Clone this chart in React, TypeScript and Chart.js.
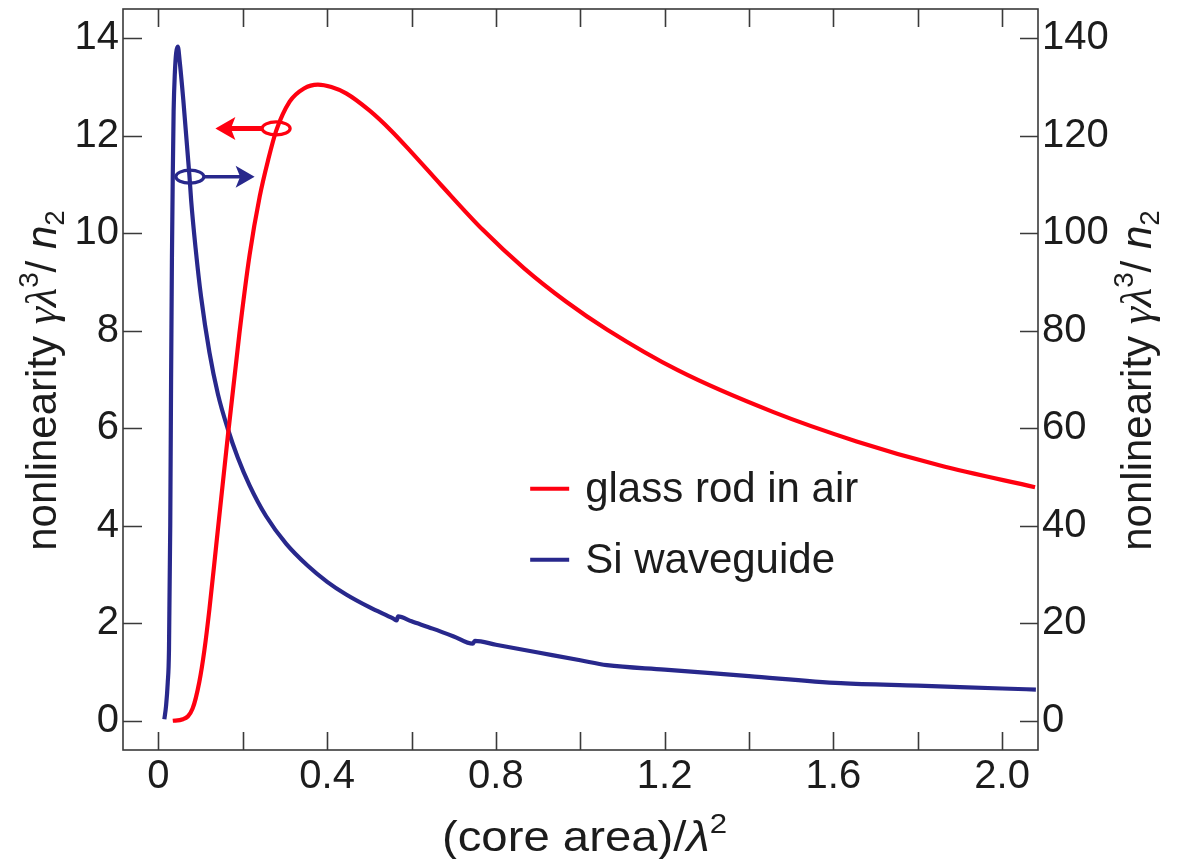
import React, { useEffect, useRef } from "react";
import { Chart, registerables } from "chart.js";

Chart.register(...registerables);

// ---------- data ----------
const xLabelTicks = [0, 0.4, 0.8, 1.2, 1.6, 2.0];
const xMinorTicks = [0, 0.2, 0.4, 0.6, 0.8, 1.0, 1.2, 1.4, 1.6, 1.8, 2.0];
const leftTicks = [0, 2, 4, 6, 8, 10, 12, 14];
const rightTicks = [0, 20, 40, 60, 80, 100, 120, 140];

const seriesLabels = ["glass rod in air", "Si waveguide"];

// glass rod in air (left axis)
const glassX = [0.034, 0.058, 0.081, 0.097, 0.109, 0.121, 0.137, 0.164, 0.192, 0.216, 0.24, 0.26, 0.279, 0.311, 0.345, 0.378, 0.41, 0.445, 0.5, 0.55, 0.6, 0.67, 0.769, 0.867, 0.966, 1.064, 1.231, 1.458, 1.655, 1.851, 2.078];
const glassY = [0, 0.03, 0.25, 0.8, 1.45, 2.3, 3.6, 5.8, 7.95, 9.55, 10.75, 11.5, 12.1, 12.7, 12.97, 13.05, 13.0, 12.87, 12.52, 12.12, 11.66, 10.99, 10.07, 9.28, 8.6, 8.02, 7.19, 6.33, 5.73, 5.24, 4.79];

// Si waveguide (right axis)
const siX = [0.014, 0.018, 0.022, 0.025, 0.028, 0.03, 0.032, 0.034, 0.036, 0.039, 0.042, 0.046, 0.05, 0.059, 0.0735, 0.0775, 0.088, 0.101, 0.121, 0.141, 0.164, 0.188, 0.216, 0.255, 0.303, 0.354, 0.4, 0.445, 0.5, 0.556, 0.565, 0.568, 0.6, 0.65, 0.7, 0.745, 0.75, 0.8, 0.9, 1.0, 1.063, 1.2, 1.4, 1.618, 1.8, 2.0, 2.08];
const siY = [0.3, 3, 7.7, 14.5, 40, 70, 95, 112, 125, 133, 137, 138.3, 135.6, 127.3, 111.8, 106.8, 97, 87, 75.5, 67, 60, 54, 48.3, 42, 36.3, 31.8, 28.5, 25.9, 23.3, 21.0, 20.6, 21.4, 20.4, 18.9, 17.3, 15.8, 16.4, 15.6, 14.0, 12.4, 11.4, 10.5, 9.15, 7.7, 7.2, 6.62, 6.4];

// axis ranges
const X_MIN = -0.084;
const X_MAX = 2.085;
const YL_MIN = -0.6;
const YL_MAX = 14.6;
const YR_MIN = -6;
const YR_MAX = 146;

// axis-marker annotations (data units)
const glassMarkerX = 0.279;
const glassMarkerY = 12.15;
const glassArrowTipX = 0.135;
const siMarkerX = 0.0745;
const siMarkerY = 111.6;
const siArrowTipX = 0.228;

// ---------- styles ----------
const RED = "#FF0010";
const BLUE = "#28288C";
const AXIS = "#3a3a3a";
const TEXT = "#1c1c1c";
const FAMILY = '"Liberation Sans", Arial, Helvetica, sans-serif';
const SERIF = '"Liberation Serif", "Times New Roman", serif';
const font = (size: number, italic = false, fam = FAMILY) => `${italic ? "italic " : ""}${size}px ${fam}`;

type Part = { t: string; s: "n" | "i" | "gi" | "sup" | "sub" };

function drawRich(ctx: CanvasRenderingContext2D, parts: Part[], cx: number, baseY: number, size: number, sx = 1) {
  const small = size * 0.66;
  const fontFor = (p: Part) =>
    p.s === "i" ? font(size, true) : p.s === "gi" ? font(size * 1.05, true, SERIF) : p.s === "n" ? font(size) : font(small);
  let total = 0;
  for (const p of parts) {
    ctx.font = fontFor(p);
    total += ctx.measureText(p.t).width;
  }
  ctx.save();
  ctx.translate(cx, baseY);
  ctx.scale(sx, 1);
  let x = -total / 2;
  ctx.textAlign = "left";
  ctx.textBaseline = "alphabetic";
  for (const p of parts) {
    ctx.font = fontFor(p);
    const dy = p.s === "sup" ? -size * 0.42 : p.s === "sub" ? size * 0.2 : 0;
    ctx.fillText(p.t, x, dy);
    x += ctx.measureText(p.t).width;
  }
  ctx.restore();
}

const framePlugin = {
  id: "frame",
  afterDatasetsDraw(chart: any) {
    const { ctx, chartArea: a, scales } = chart;
    ctx.save();
    ctx.strokeStyle = AXIS;
    ctx.lineWidth = 1.6;
    ctx.strokeRect(a.left, a.top, a.right - a.left, a.bottom - a.top);
    ctx.beginPath();
    for (const v of xMinorTicks) {
      const px = Math.round(scales.x.getPixelForValue(v)) + 0.5;
      ctx.moveTo(px, a.bottom);
      ctx.lineTo(px, a.bottom - 18);
      ctx.moveTo(px, a.top);
      ctx.lineTo(px, a.top + 18);
    }
    for (const v of leftTicks) {
      const py = Math.round(scales.y.getPixelForValue(v)) + 0.5;
      ctx.moveTo(a.left, py);
      ctx.lineTo(a.left + 19, py);
    }
    for (const v of rightTicks) {
      const py = Math.round(scales.y1.getPixelForValue(v)) + 0.5;
      ctx.moveTo(a.right, py);
      ctx.lineTo(a.right - 18, py);
    }
    ctx.stroke();
    ctx.restore();
  },
};

const markerPlugin = {
  id: "markers",
  afterDatasetsDraw(chart: any) {
    const { ctx, scales } = chart;
    ctx.save();
    // red: ellipse + arrow to the left
    {
      const cx = scales.x.getPixelForValue(glassMarkerX);
      const cy = scales.y.getPixelForValue(glassMarkerY);
      const tip = scales.x.getPixelForValue(glassArrowTipX);
      ctx.strokeStyle = RED;
      ctx.fillStyle = RED;
      ctx.lineWidth = 3.2;
      ctx.beginPath();
      ctx.ellipse(cx, cy, 14, 6.5, 0, 0, Math.PI * 2);
      ctx.stroke();
      ctx.lineWidth = 5;
      ctx.beginPath();
      ctx.moveTo(cx - 14, cy);
      ctx.lineTo(tip + 14, cy);
      ctx.stroke();
      ctx.beginPath();
      ctx.moveTo(tip, cy);
      ctx.lineTo(tip + 20, cy - 11.5);
      ctx.lineTo(tip + 15.5, cy);
      ctx.lineTo(tip + 20, cy + 11.5);
      ctx.closePath();
      ctx.fill();
    }
    // blue: ellipse + arrow to the right
    {
      const cx = scales.x.getPixelForValue(siMarkerX);
      const cy = scales.y1.getPixelForValue(siMarkerY);
      const tip = scales.x.getPixelForValue(siArrowTipX);
      ctx.strokeStyle = BLUE;
      ctx.fillStyle = BLUE;
      ctx.lineWidth = 3.2;
      ctx.beginPath();
      ctx.ellipse(cx, cy, 14, 6.5, 0, 0, Math.PI * 2);
      ctx.stroke();
      ctx.lineWidth = 3.5;
      ctx.beginPath();
      ctx.moveTo(cx + 14, cy);
      ctx.lineTo(tip - 14, cy);
      ctx.stroke();
      ctx.beginPath();
      ctx.moveTo(tip, cy);
      ctx.lineTo(tip - 19, cy - 11);
      ctx.lineTo(tip - 14.5, cy);
      ctx.lineTo(tip - 19, cy + 11);
      ctx.closePath();
      ctx.fill();
    }
    ctx.restore();
  },
};

const legendPlugin = {
  id: "innerLegend",
  afterDraw(chart: any) {
    const { ctx, chartArea: a } = chart;
    const w = a.right - a.left;
    const h = a.bottom - a.top;
    const x0 = a.left + w * 0.445;
    const rows = [a.top + h * 0.6475, a.top + h * 0.7434];
    const colors = [RED, BLUE];
    ctx.save();
    rows.forEach((y, i) => {
      ctx.strokeStyle = colors[i];
      ctx.lineWidth = 4;
      ctx.beginPath();
      ctx.moveTo(x0, y);
      ctx.lineTo(x0 + 39, y);
      ctx.stroke();
      ctx.fillStyle = TEXT;
      ctx.font = font(42);
      ctx.textAlign = "left";
      ctx.textBaseline = "middle";
      ctx.fillText(seriesLabels[i], x0 + 55, y + 2);
    });
    ctx.restore();
  },
};

const titlesPlugin = {
  id: "axisTitles",
  afterDraw(chart: any) {
    const { ctx, chartArea: a, height } = chart;
    const yMid = (a.top + a.bottom) / 2 + 1;
    ctx.save();
    ctx.fillStyle = TEXT;
    // bottom
    drawRich(
      ctx,
      [
        { t: "(core area)/", s: "n" },
        { t: "λ", s: "i" },
        { t: "2", s: "sup" },
      ],
      (a.left + a.right) / 2 + 4,
      height - 8,
      43,
      1.1
    );
    const yParts: Part[] = [
      { t: "nonlinearity ", s: "n" },
      { t: "γλ", s: "gi" },
      { t: "3", s: "sup" },
      { t: "/ ", s: "n" },
      { t: "n", s: "i" },
      { t: "2", s: "sub" },
    ];
    // left
    ctx.save();
    ctx.translate(56, yMid);
    ctx.rotate(-Math.PI / 2);
    drawRich(ctx, yParts, 0, 0, 42);
    ctx.restore();
    // right
    ctx.save();
    ctx.translate(1151, yMid);
    ctx.rotate(-Math.PI / 2);
    drawRich(ctx, yParts, 0, 0, 42);
    ctx.restore();
    ctx.restore();
  },
};

export default function App() {
  const ref = useRef<HTMLCanvasElement | null>(null);

  useEffect(() => {
    if (!ref.current) return;
    const tickFont = { family: FAMILY, size: 40 };
    const noPadY = (w: number) => (s: any) => {
      s.width = w;
      s.paddingTop = 0;
      s.paddingBottom = 0;
    };
    const chart = new Chart(ref.current, {
      type: "scatter",
      data: {
        datasets: [
          {
            label: seriesLabels[0],
            data: glassX.map((x, i) => ({ x, y: glassY[i] })),
            yAxisID: "y",
            showLine: true,
            borderColor: RED,
            backgroundColor: RED,
            borderWidth: 4.2,
            pointRadius: 0,
            cubicInterpolationMode: "monotone",
          },
          {
            label: seriesLabels[1],
            data: siX.map((x, i) => ({ x, y: siY[i] })),
            yAxisID: "y1",
            showLine: true,
            borderColor: BLUE,
            backgroundColor: BLUE,
            borderWidth: 4.2,
            pointRadius: 0,
            cubicInterpolationMode: "monotone",
          },
        ],
      },
      options: {
        responsive: false,
        animation: false,
        layout: { padding: { top: 9, left: 0, right: 0, bottom: 0 } },
        plugins: { legend: { display: false }, tooltip: { enabled: false } },
        scales: {
          x: {
            type: "linear",
            position: "bottom",
            min: X_MIN,
            max: X_MAX,
            grid: { display: false, drawTicks: false },
            border: { display: false },
            afterBuildTicks: (s: any) => {
              s.ticks = xLabelTicks.map((v) => ({ value: v }));
            },
            afterFit: (s: any) => {
              s.height = 109;
              s.paddingLeft = 0;
              s.paddingRight = 0;
            },
            ticks: {
              font: tickFont,
              color: TEXT,
              padding: 3,
              maxRotation: 0,
              autoSkip: false,
              callback: (v: any) => (Number(v) === 0 ? "0" : Number(v).toFixed(1)),
            },
          },
          y: {
            type: "linear",
            position: "left",
            min: YL_MIN,
            max: YL_MAX,
            grid: { display: false, drawTicks: false },
            border: { display: false },
            afterBuildTicks: (s: any) => {
              s.ticks = leftTicks.map((v) => ({ value: v }));
            },
            afterFit: noPadY(123),
            ticks: { font: tickFont, color: TEXT, padding: 4, autoSkip: false, callback: (v: any) => String(v) },
          },
          y1: {
            type: "linear",
            position: "right",
            min: YR_MIN,
            max: YR_MAX,
            grid: { display: false, drawTicks: false },
            border: { display: false },
            afterBuildTicks: (s: any) => {
              s.ticks = rightTicks.map((v) => ({ value: v }));
            },
            afterFit: noPadY(141),
            ticks: { font: tickFont, color: TEXT, padding: 4, autoSkip: false, callback: (v: any) => String(v) },
          },
        },
      },
      plugins: [framePlugin, markerPlugin, legendPlugin, titlesPlugin],
    } as any);
    return () => chart.destroy();
  }, []);

  return (
    <div style={{ position: "fixed", left: 0, top: 0, width: 1179, height: 859, background: "#fff" }}>
      <canvas ref={ref} width={1179} height={859} style={{ display: "block" }} />
    </div>
  );
}
